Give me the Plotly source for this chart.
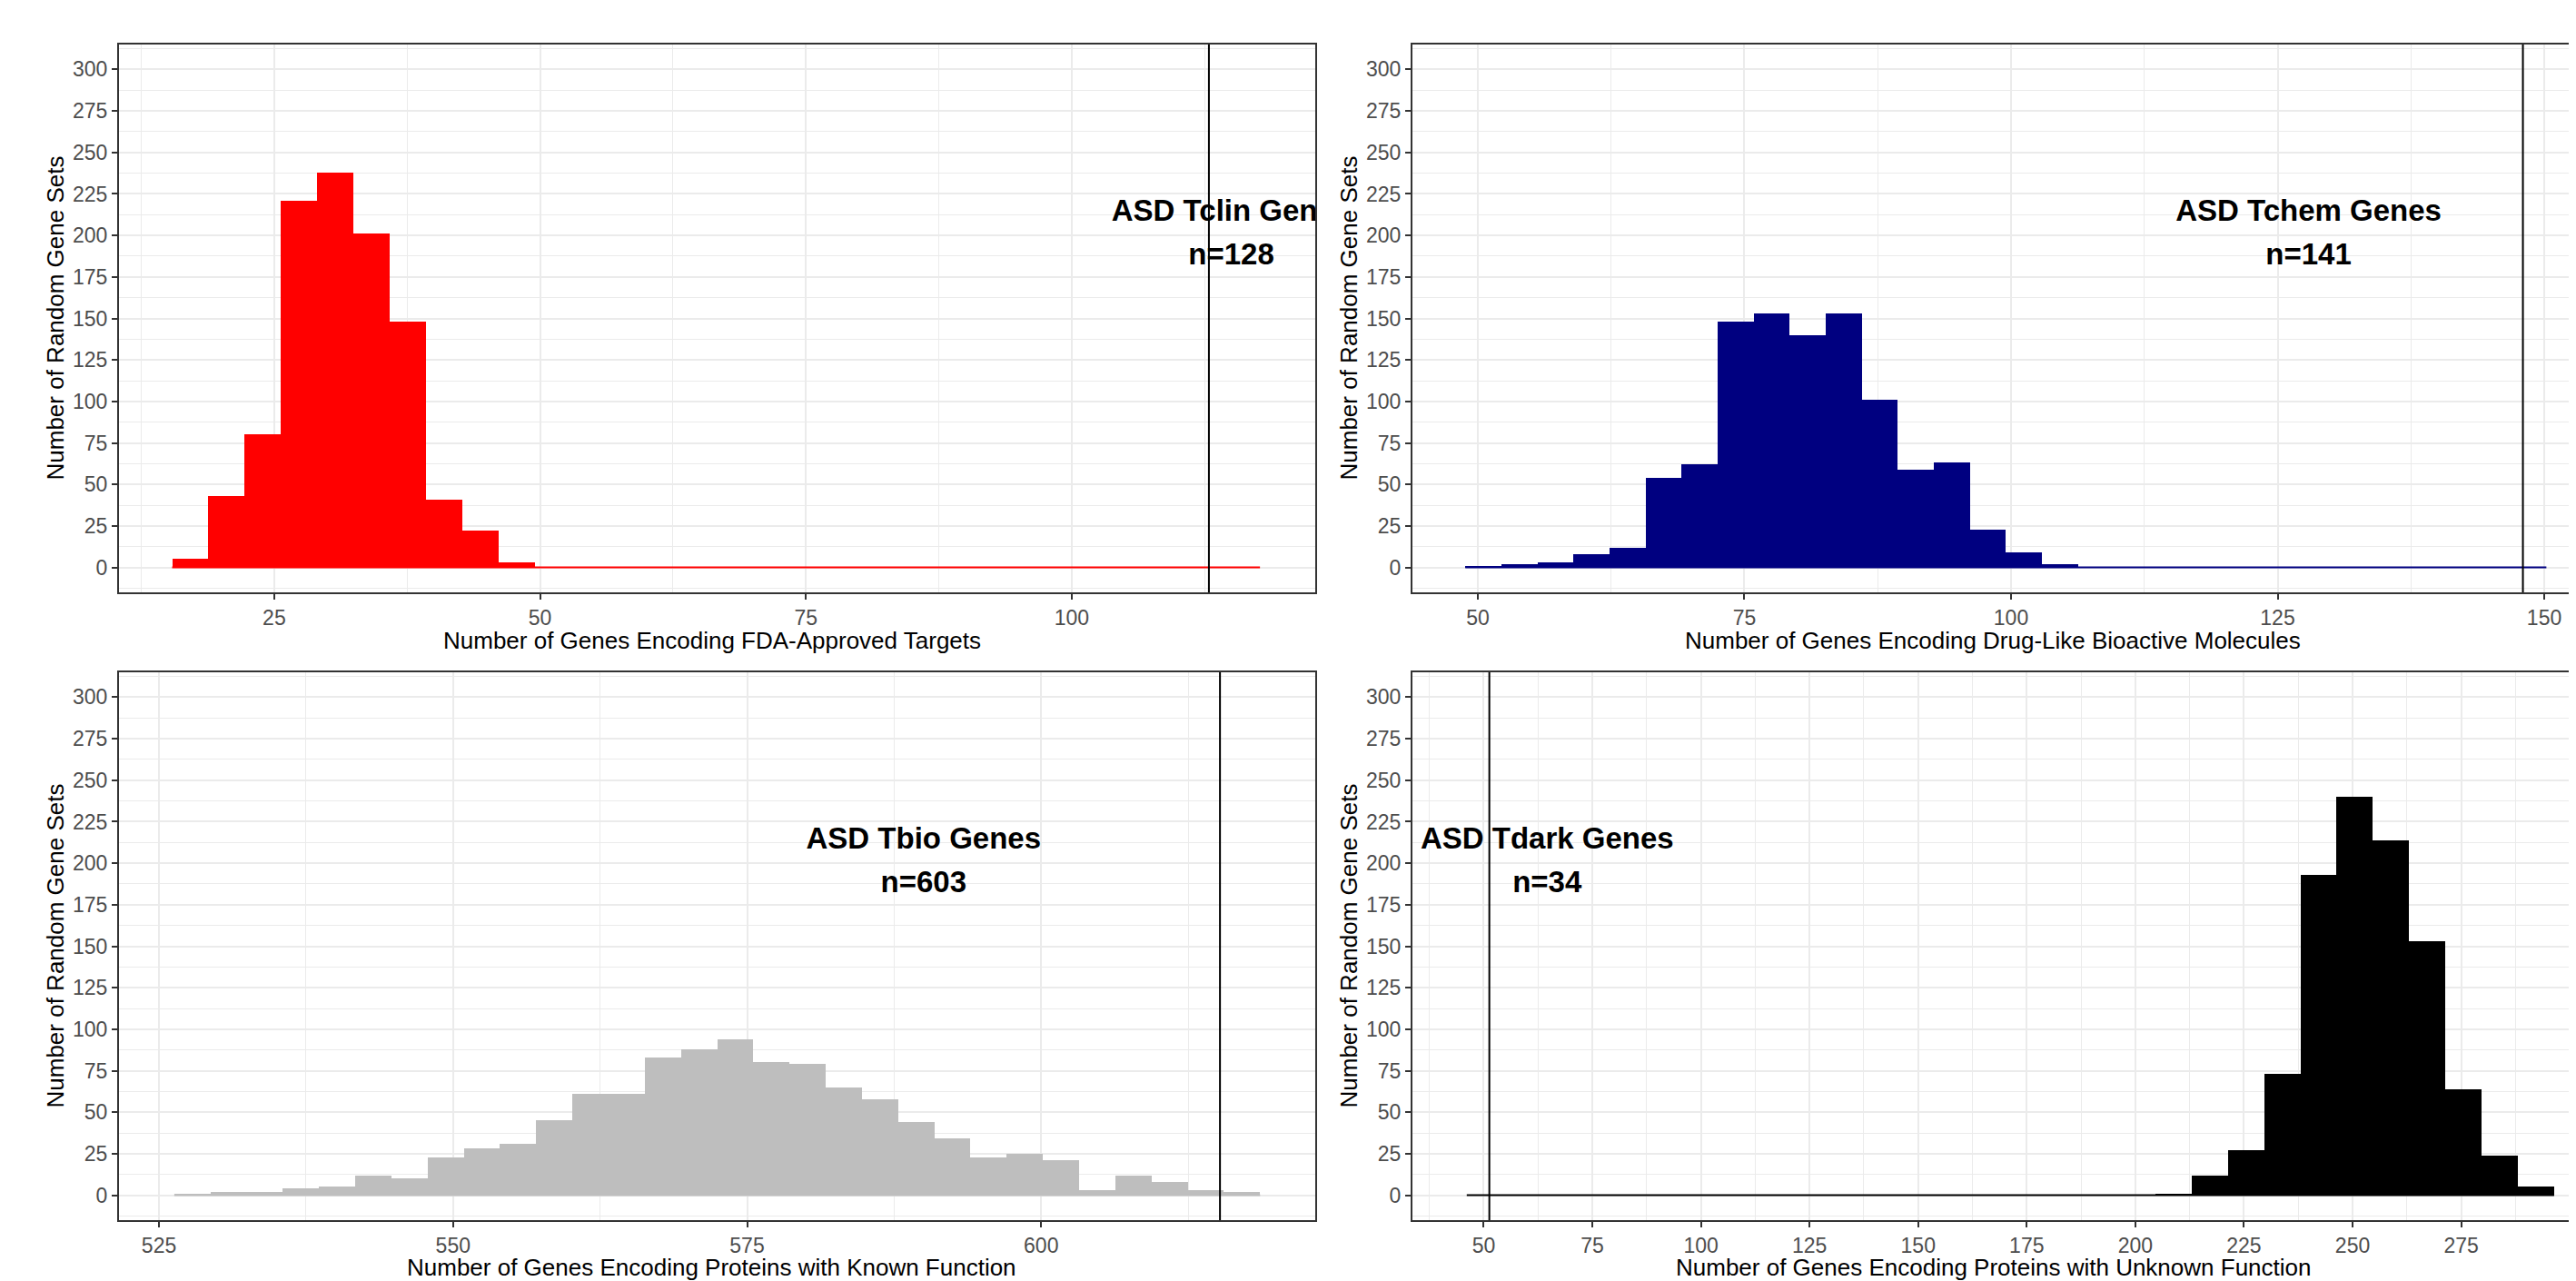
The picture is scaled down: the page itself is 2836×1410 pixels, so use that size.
import plotly.graph_objects as go

# ---------------- data ----------------
x_titles = [
    "Number of Genes Encoding FDA-Approved Targets",
    "Number of Genes Encoding Drug-Like Bioactive Molecules",
    "Number of Genes Encoding Proteins with Known Function",
    "Number of Genes Encoding Proteins with Unknown Function",
]
y_title = "Number of Random Gene Sets"
label_names = ["ASD Tclin Genes", "ASD Tchem Genes", "ASD Tbio Genes", "ASD Tdark Genes"]
label_counts = ["n=128", "n=141", "n=603", "n=34"]

y_ticks = [0, 25, 50, 75, 100, 125, 150, 175, 200, 225, 250, 275, 300]

# Tclin histogram (30 bins)
tclin_bin_start = 15.4
tclin_bin_width = 3.41
tclin_counts = [5, 43, 80, 221, 238, 201, 148, 41, 22, 3,
                0, 0, 0, 0, 0, 0, 0, 0, 0, 0,
                0, 0, 0, 0, 0, 0, 0, 0, 0, 0]

# Tchem histogram (30 bins)
tchem_bin_start = 48.83
tchem_bin_width = 3.379
tchem_counts = [1, 2, 3, 8, 12, 54, 62, 148, 153, 140,
                153, 101, 59, 63, 23, 9, 2, 0, 0, 0,
                0, 0, 0, 0, 0, 0, 0, 0, 0, 0]

# Tbio histogram (30 bins)
tbio_bin_start = 526.3
tbio_bin_width = 3.077
tbio_counts = [1, 2, 2, 4, 5, 12, 10, 23, 28, 31,
               45, 61, 61, 83, 88, 94, 80, 79, 65, 58,
               44, 34, 23, 25, 21, 3, 12, 8, 3, 2]

# Tdark histogram (30 bins)
tdark_bin_start = 46.1
tdark_bin_width = 8.343
tdark_counts = [0, 0, 0, 0, 0, 0, 0, 0, 0, 0,
                0, 0, 0, 0, 0, 0, 0, 0, 0, 1,
                12, 27, 73, 193, 240, 214, 153, 64, 24, 5]

# observed ASD values (vertical lines)
asd_observed = [112.9, 148.0, 615.2, 51.3]

x_ticks = [
    [25, 50, 75, 100],
    [50, 75, 100, 125, 150],
    [525, 550, 575, 600],
    [50, 75, 100, 125, 150, 175, 200, 225, 250, 275, 300],
]

# ---------------- layout / style ----------------
W, H = 2836, 1410
FONT = "Liberation Sans, Arial, sans-serif"
colors = ["#FF0000", "#000080", "#BEBEBE", "#000000"]

# panel boxes in pixels (left, right, top, bottom); right column is cut by the image edge
L_COL = (123, 1440)
R_COL = (1547, W)
T_ROW = (41, 644)
B_ROW = (732, 1335)

boxes = [
    (L_COL, T_ROW, False),
    (R_COL, T_ROW, True),
    (L_COL, B_ROW, False),
    (R_COL, B_ROW, True),
]
x_ranges = [
    (10.4, 122.9),
    (43.87, 153.66),
    (521.6, 623.3),
    (33.6, 303.1),
]
x_title_centers = [(L_COL[0] + L_COL[1]) / 2 - 6, 2186, (L_COL[0] + L_COL[1]) / 2 - 6, 2186]
x_title_offsets = [53, 53, 52, 52]
label_x = [115.0, 127.9, 590.0, 64.6]
label_y = [213.5, 187.0]

hists = [
    (tclin_bin_start, tclin_bin_width, tclin_counts),
    (tchem_bin_start, tchem_bin_width, tchem_counts),
    (tbio_bin_start, tbio_bin_width, tbio_counts),
    (tdark_bin_start, tdark_bin_width, tdark_counts),
]

fig = go.Figure()
shapes = []
annotations = []
layout_axes = {}

for i in range(4):
    k = "" if i == 0 else str(i + 1)
    xa, ya = "x" + k, "y" + k
    start, width, counts = hists[i]
    edges = [start + j * width for j in range(len(counts) + 1)]
    centers = [(edges[j] + edges[j + 1]) / 2 for j in range(len(counts))]
    col = colors[i]

    # zero-height bins drawn as a baseline
    fig.add_trace(go.Scatter(x=[edges[0], edges[-1]], y=[0, 0], mode="lines",
                             line=dict(color=col, width=2), xaxis=xa, yaxis=ya,
                             hoverinfo="skip", showlegend=False))
    fig.add_trace(go.Bar(x=centers, y=counts, width=width, xaxis=xa, yaxis=ya,
                         marker=dict(color=col, line=dict(width=0)), showlegend=False))
    fig.add_trace(go.Scatter(x=[label_x[i], label_x[i]], y=label_y, mode="text",
                             text=[label_names[i], label_counts[i]],
                             textposition="middle center",
                             textfont=dict(size=33, color="black", family=FONT, weight="bold"),
                             cliponaxis=True, xaxis=xa, yaxis=ya, hoverinfo="skip",
                             showlegend=False))

    (xl, xr), (yt, yb), is_right = boxes[i]
    common = dict(showline=True, linecolor="#333333", linewidth=2,
                  ticks="outside", ticklen=6, tickwidth=2, tickcolor="#333333",
                  showgrid=True, gridcolor="#EBEBEB", gridwidth=2, zeroline=False,
                  tickfont=dict(size=23, color="#4D4D4D", family=FONT))
    layout_axes["xaxis" + k] = dict(
        domain=[xl / W, xr / W], range=list(x_ranges[i]), anchor=ya,
        tickmode="array", tickvals=x_ticks[i], mirror=True,
        minor=dict(tick0=0, dtick=12.5, showgrid=True, gridcolor="#EBEBEB",
                   gridwidth=1, ticks=""),
        **common)
    layout_axes["yaxis" + k] = dict(
        domain=[1 - yb / H, 1 - yt / H], range=[-15, 315], anchor=xa,
        tickmode="array", tickvals=y_ticks, mirror=not is_right,
        minor=dict(tick0=0, dtick=12.5, showgrid=True, gridcolor="#EBEBEB",
                   gridwidth=1, ticks=""),
        **common)

    shapes.append(dict(type="line", xref=xa, yref=ya + " domain",
                       x0=asd_observed[i], x1=asd_observed[i], y0=0, y1=1,
                       line=dict(color="black", width=2), layer="above"))

    annotations.append(dict(text=x_titles[i], xref="paper", yref="paper",
                            x=x_title_centers[i] / W, y=1 - (yb + x_title_offsets[i]) / H,
                            xanchor="center", yanchor="middle", showarrow=False,
                            borderpad=0,
                            font=dict(size=26, color="black", family=FONT)))
    annotations.append(dict(text=y_title, xref="paper", yref="paper",
                            x=(xl - 71) / W, y=1 - (yt + yb) / 2 / H,
                            xanchor="center", yanchor="middle", showarrow=False,
                            textangle=-90, borderpad=0,
                            font=dict(size=26, color="black", family=FONT)))

fig.update_layout(width=W, height=H, autosize=False,
                  margin=dict(l=0, r=0, t=0, b=0),
                  paper_bgcolor="white", plot_bgcolor="white",
                  bargap=0, showlegend=False,
                  shapes=shapes, annotations=annotations, **layout_axes)

fig.write_html("out.html")
